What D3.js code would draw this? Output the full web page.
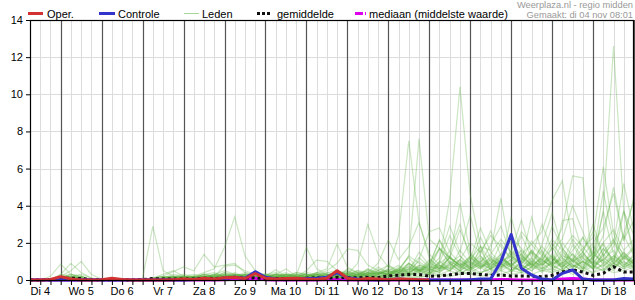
<!DOCTYPE html>
<html lang="nl">
<head>
  <meta charset="UTF-8">
  <title>Neerslag pluim</title>
  <script src="https://cdn.jsdelivr.net/npm/d3@7"></script>
  <style>
    body { margin: 0; background: #fff; }
    text { font-family: "Liberation Sans", Arial, sans-serif; }
  </style>
</head>
<body>

<script>
  // 6-uurs stappen, van di 4 nov 06:00 t/m wo 19 nov 00:00
  var dagLabels = ['Di 4','Wo 5','Do 6','Vr 7','Za 8','Zo 9','Ma 10','Di 11','Wo 12','Do 13','Vr 14','Za 15','Zo 16','Ma 17','Di 18'];
  var yTicks = [0,2,4,6,8,10,12,14];

  var oper = [0,0,0.03,0.18,0.05,0,0,0.02,0.1,0.03,
    0,0,0,0,0.02,0.05,0.03,0.1,0.05,0.12,
    0.15,0.08,0.35,0.1,0.05,0.08,0.1,0.05,0.03,0.1,
    0.5,0.1,0.02,0.08,0.05,0.02,0.06,0.04,0.02,0];

  var controle = [0,0,0,0.02,0,0,0,0,0,0,
    0,0,0,0,0,0,0.03,0.05,0.02,0.1,
    0.15,0.1,0.45,0.15,0.05,0.02,0.05,0.08,0.1,0.15,
    0.4,0.12,0.05,0.02,0,0.02,0.05,0.02,0,0,
    0,0,0,0.02,0.05,0.05,1.0,2.45,0.63,0.27,
    0.05,0,0.36,0.54,0.05,0,0,0,0.08,0.05];

  var gemiddelde = [0,0,0.02,0.1,0.1,0.08,0.02,0.01,0.02,0.01,
    0,0.02,0.08,0.05,0.05,0.06,0.06,0.1,0.08,0.1,
    0.15,0.1,0.12,0.08,0.08,0.08,0.06,0.1,0.12,0.1,
    0.15,0.12,0.12,0.15,0.12,0.22,0.25,0.3,0.3,0.2,
    0.22,0.28,0.35,0.35,0.3,0.25,0.27,0.22,0.22,0.2,
    0.18,0.25,0.43,0.54,0.43,0.25,0.36,0.72,0.43,0.43];

  var mediaan = [0,0,0,0,0,0,0,0,0,0,
    0,0,0,0,0,0,0,0,0,0.02,
    0.04,0.05,0.1,0.02,0,0,0,0,0,0.02,
    0.03,0,0,0,0,0,0,0,0,0,
    0,0,0,0,0,0.02,0.03,0.02,0,0,
    0,0.02,0.06,0.08,0.06,0,0,0,0,0];

  var leden = [
    [0,0,0.2,0.86,0.3,0.1,0,0,0,0, 0,0,0.1,0.2,0.1,0,0.1,0.2,0.1,0.3, 0.2,0.4,0.2,0.1,0.3,0.1,0.2,0.1,0.3,0.2, 0.1,0.4,0.3,0.2,0.5,0.3,0.6,1.2,0.5,0.3, 0.8,0.5,1.1,0.6,0.3,0.9,1.4,0.7,0.5,1.0, 0.6,1.8,0.9,0.4,1.2,0.6,1.5,2.2,1.0,0.7],
    [0,0,0,0.3,0.9,0.4,0.1,0,0,0, 0,0.1,2.9,0.5,0.2,0.1,0,0.2,0.1,0.2, 0.1,0.3,0.1,0.2,0.1,0.2,0.4,0.3,0.1,0.2, 0.3,0.5,0.2,0.4,0.3,0.8,0.5,1.3,0.9,0.5, 1.7,1.2,0.6,1.25,0.8,0.4,0.7,1.1,1.6,0.9, 0.4,1.0,1.6,0.8,0.5,1.3,2.0,0.9,1.4,0.6],
    [0,0,0,0.2,0.5,1.0,0.3,0.05,0,0, 0,0,0.1,0.3,0.5,0.2,0.1,0.3,0.2,0.4, 0.3,0.2,0.4,0.2,0.3,0.6,0.2,0.1,0.4,0.3, 0.2,0.6,0.4,0.3,0.7,0.4,0.3,0.9,0.6,0.4, 0.5,1.2,0.8,0.5,1.8,1.0,0.6,1.4,0.8,0.5, 1.1,0.7,3.2,3.3,1.5,0.8,1.7,0.9,3.7,1.2],
    [0,0,0,0.1,0.2,0.1,0,0,0,0, 0,0,0,0.1,0.2,0.3,0.2,0.4,0.6,1.76, 3.4,1.3,0.5,0.2,0.1,0.3,0.2,0.1,0.2,0.4, 0.3,0.2,0.5,0.3,0.4,0.2,0.5,0.3,0.8,0.6, 0.4,0.9,0.5,1.2,0.7,0.3,0.6,0.9,0.4,0.7, 1.3,0.8,0.5,1.1,0.6,1.6,0.8,0.5,1.2,0.9],
    [0,0,0,0.2,0.3,0.2,0,0,0,0, 0,0,0.1,0.2,0.45,0.7,0.5,1.38,0.7,0.8, 0.9,0.4,0.3,0.2,0.55,0.2,0.1,0.2,0.3,0.2, 0.5,0.3,0.2,0.6,0.3,0.5,0.8,0.4,1.1,2.6, 2.8,1.5,0.9,0.6,1.1,0.7,1.3,0.5,0.9,1.5, 0.8,1.2,0.6,1.9,1.0,0.7,1.1,1.6,0.8,1.3],
    [0,0,0,0.1,0.1,0.2,0,0,0,0, 0,0,0,0.1,0.1,0.2,0.1,0.3,0.2,0.75, 0.8,0.5,0.3,0.2,0.3,0.2,0.25,1.76,0.6,0.3, 0.2,0.4,0.3,0.5,0.4,0.3,0.5,0.9,0.5,0.8, 2.15,1.0,0.7,0.5,0.9,0.6,1.2,0.8,0.5,1.1, 0.7,0.4,1.0,0.6,1.3,0.9,3.7,1.4,0.8,1.1],
    [0,0,0,0.3,0.2,0.1,0,0,0,0, 0,0,0.1,0.2,0.1,0.1,0.2,0.1,0.3,0.2, 0.4,0.2,0.3,0.1,0.2,0.4,0.2,0.5,1.07,1.0, 0.5,0.3,0.2,0.4,0.3,0.6,2.4,7.5,3.1,1.2, 0.6,1.2,0.8,0.4,0.7,1.0,0.5,0.8,1.2,0.6, 0.9,0.5,1.4,0.8,0.6,1.0,0.7,1.3,0.9,0.5],
    [0,0,0,0.1,0.3,0.2,0,0,0,0, 0,0,0,0.1,0.2,0.1,0.1,0.2,0.3,0.5, 0.3,0.2,0.1,0.3,0.2,0.1,0.3,0.2,0.4,0.6, 1.94,0.7,0.4,0.3,0.6,0.4,0.5,1.3,7.6,2.2, 1.7,0.9,0.5,0.8,1.3,0.6,0.9,0.4,1.0,0.7, 1.2,0.6,0.9,1.4,0.7,1.1,0.6,0.9,1.5,0.8],
    [0,0,0,0.2,0.2,0.3,0.1,0,0,0, 0,0,0,0.2,0.1,0.2,0.3,0.2,0.1,0.3, 0.2,0.3,0.2,0.1,0.3,0.2,0.1,0.4,0.3,0.5, 0.9,1.67,1.6,0.8,0.5,0.3,0.6,0.4,0.7,0.5, 1.0,4.4,10.4,4.6,1.8,0.5,0.8,1.1,0.6,0.9, 0.5,1.0,0.7,1.2,0.6,0.8,1.3,0.7,1.0,0.6],
    [0,0,0,0.1,0.1,0.1,0,0,0,0, 0,0,0,0.1,0.3,0.2,0.1,0.3,0.4,0.2, 0.3,0.2,0.4,0.3,0.2,0.3,0.2,0.3,0.2,0.4, 0.5,0.3,0.9,3.0,1.4,0.7,0.4,0.8,0.5,1.1, 0.7,1.2,4.16,1.5,0.8,0.6,1.0,0.7,1.3,0.8, 0.6,1.1,0.8,0.5,1.0,1.4,0.9,0.6,1.2,0.8],
    [0,0,0,0.2,0.1,0.1,0,0,0,0, 0,0,0.1,0.1,0.2,0.1,0.2,0.3,0.2,0.4, 0.2,0.3,0.2,0.3,0.4,0.2,0.3,0.2,0.3,0.2, 0.4,0.3,0.5,0.4,0.9,2.15,1.1,1.8,3.1,1.4, 0.8,0.5,1.1,0.7,1.4,2.65,1.3,0.7,0.5,0.9, 1.6,0.8,0.5,1.0,0.7,0.4,0.9,1.3,0.7,1.0],
    [0,0,0,0.1,0.2,0.1,0,0,0,0, 0,0,0,0.1,0.1,0.2,0.1,0.2,0.3,0.2, 0.3,0.2,0.1,0.2,0.3,0.2,0.4,0.3,0.2,0.3, 0.2,0.5,0.3,0.6,0.4,0.3,0.7,0.5,1.0,0.6, 0.9,1.3,0.7,1.1,1.8,1.6,4.4,1.2,0.8,0.5, 0.9,1.4,0.7,1.1,0.6,1.9,1.0,0.7,1.3,0.9],
    [0,0,0,0.1,0.1,0.2,0,0,0,0, 0,0,0,0,0.1,0.2,0.1,0.2,0.2,0.3, 0.2,0.1,0.3,0.2,0.1,0.3,0.2,0.2,0.3,0.2, 0.3,0.2,0.4,0.3,0.5,0.8,0.4,0.6,1.2,0.7, 1.7,0.9,1.3,0.6,1.0,1.4,2.2,1.5,3.23,1.4, 0.8,1.3,0.6,0.9,1.5,0.8,0.5,1.1,0.7,1.4],
    [0,0,0,0,0.1,0.1,0,0,0,0, 0,0,0,0.1,0.2,0.1,0.2,0.1,0.3,0.2, 0.2,0.3,0.2,0.1,0.2,0.3,0.2,0.3,0.2,0.3, 0.4,0.2,0.3,0.5,0.3,0.6,0.4,0.9,0.5,1.0, 0.6,1.25,0.8,1.25,0.7,1.1,0.8,1.6,1.0,3.4, 1.5,0.8,1.2,0.7,1.0,0.6,1.4,0.9,0.6,1.1],
    [0,0,0,0.1,0.1,0,0,0,0,0, 0,0,0,0.1,0.1,0.2,0.1,0.2,0.1,0.2, 0.3,0.2,0.2,0.1,0.2,0.2,0.3,0.2,0.3,0.2, 0.3,0.2,0.3,0.2,0.4,0.5,0.3,0.6,0.4,0.8, 0.5,0.9,0.6,1.0,0.7,0.9,1.2,0.8,1.4,1.9, 2.6,4.3,5.35,2.0,1.2,0.8,1.1,0.6,1.3,0.9],
    [0,0,0,0.1,0.2,0.1,0,0,0,0, 0,0,0,0,0.1,0.1,0.2,0.1,0.2,0.3, 0.2,0.2,0.3,0.2,0.2,0.1,0.2,0.3,0.2,0.3, 0.2,0.3,0.4,0.2,0.3,0.4,0.6,0.4,0.7,0.5, 0.8,0.6,1.0,0.7,1.2,0.8,1.0,1.3,0.9,1.5, 1.1,1.7,2.8,5.6,5.5,0.6,1.2,0.8,1.5,1.0],
    [0,0,0,0.1,0.1,0.1,0,0,0,0, 0,0,0,0.1,0.1,0.1,0.2,0.1,0.2,0.1, 0.2,0.3,0.2,0.3,0.2,0.2,0.1,0.2,0.3,0.2, 0.3,0.4,0.2,0.3,0.4,0.3,0.5,0.7,0.5,0.9, 0.6,1.0,0.7,1.3,0.9,0.6,1.1,0.8,1.2,0.7, 1.0,0.8,1.3,1.1,1.7,2.3,6.1,2.5,1.2,1.8],
    [0,0,0,0.1,0,0.1,0,0,0,0, 0,0,0,0.1,0.1,0.2,0.1,0.1,0.2,0.2, 0.1,0.2,0.3,0.2,0.1,0.2,0.2,0.3,0.2,0.1, 0.2,0.3,0.2,0.4,0.2,0.3,0.4,0.3,0.5,0.4, 0.6,0.8,0.5,0.9,0.6,1.1,0.7,0.9,0.6,1.0, 0.8,1.2,0.7,1.4,0.9,1.2,3.7,12.6,3.7,1.5],
    [0,0,0,0,0.1,0.1,0,0,0,0, 0,0,0,0,0.1,0.2,0.1,0.2,0.1,0.2, 0.2,0.1,0.2,0.1,0.2,0.3,0.2,0.2,0.1,0.2, 0.3,0.2,0.3,0.2,0.3,0.5,0.3,0.4,0.6,0.5, 0.7,0.5,0.9,0.6,0.8,1.2,0.7,1.0,1.4,0.8, 1.1,0.7,1.5,1.0,1.3,2.0,2.8,4.67,2.1,4.5],
    [0,0,0,0.1,0.1,0.1,0,0,0,0, 0,0,0,0.1,0.2,0.1,0.1,0.2,0.2,0.1, 0.3,0.2,0.1,0.2,0.3,0.2,0.1,0.2,0.4,0.3, 0.2,0.3,0.2,0.4,0.3,0.5,0.4,0.7,0.4,0.9, 1.7,1.2,0.8,1.0,0.6,1.3,0.9,0.5,1.0,1.6, 0.9,1.3,0.8,1.6,2.3,1.4,1.0,1.8,3.7,2.4],
    [0,0,0,0,0.1,0,0,0,0,0, 0,0,0,0,0.1,0.1,0.2,0.1,0.1,0.2, 0.1,0.2,0.1,0.2,0.1,0.1,0.2,0.1,0.2,0.1, 0.2,0.1,0.3,0.2,0.2,0.3,0.2,0.4,0.3,0.6, 0.4,0.8,1.1,2.0,1.5,2.4,1.8,1.2,2.6,1.9, 1.3,2.2,1.6,2.4,1.8,1.1,2.0,2.7,1.6,2.2],
    [0,0,0,0.1,0,0,0,0,0,0, 0,0,0,0,0,0.1,0.1,0.1,0.2,0.1, 0.2,0.1,0.2,0.1,0.1,0.2,0.1,0.2,0.1,0.2, 0.1,0.2,0.1,0.2,0.2,0.3,0.2,0.3,0.4,0.3, 0.5,0.7,0.4,0.6,1.0,0.7,1.4,2.1,1.3,0.8, 1.2,2.9,1.7,1.0,1.5,2.6,1.3,2.0,1.1,1.7],
    [0,0,0,0,0,0.1,0,0,0,0, 0,0,0,0,0.1,0,0.1,0.2,0.1,0.1, 0.1,0.2,0.1,0.1,0.2,0.1,0.1,0.2,0.1,0.1, 0.2,0.1,0.2,0.1,0.3,0.2,0.3,0.2,0.5,0.3, 1.0,0.6,1.6,0.9,2.3,1.2,0.8,1.5,1.0,2.1, 1.4,0.9,2.0,1.3,0.8,1.2,1.9,1.0,2.4,1.3],
    [0,0,0,0,0,0,0,0,0,0, 0,0,0,0,0,0.1,0,0.1,0.1,0.2, 0.1,0.1,0.1,0.2,0.1,0.1,0.1,0.1,0.2,0.1, 0.1,0.2,0.1,0.1,0.2,0.1,0.2,0.3,0.2,0.4, 0.3,0.5,0.3,0.7,0.4,0.6,0.9,0.5,0.7,1.2, 0.6,0.9,1.1,0.7,1.0,0.6,0.8,1.2,0.7,0.9],
    [0,0,0,0,0,0,0,0,0,0, 0,0,0,0,0,0,0.1,0,0.1,0.1, 0.1,0.1,0.2,0.1,0.1,0.1,0.1,0.1,0.1,0.2, 0.1,0.1,0.2,0.1,0.1,0.2,0.1,0.2,0.1,0.3, 0.2,0.3,0.5,0.3,0.4,0.6,0.3,0.5,0.4,0.7, 0.5,0.6,0.4,0.8,0.5,0.7,0.5,0.9,0.6,0.8],
    [0,0,0,0,0,0,0,0,0,0, 0,0,0,0,0,0,0,0.1,0,0.1, 0.1,0,0.1,0.1,0,0.1,0.1,0.1,0.1,0.1, 0.1,0.2,0.1,0.1,0.1,0.2,0.1,0.1,0.2,0.2, 0.3,0.2,0.3,0.4,0.2,0.3,0.5,0.3,0.4,0.3, 0.5,0.4,0.6,0.3,0.5,0.4,0.6,0.4,0.5,0.7],
    [0,0,0,0,0,0,0,0,0,0, 0,0,0,0,0,0,0.1,0.1,0,0.1, 0.1,0.1,0.1,0,0.1,0.1,0.1,0.2,0.1,0.1, 0.2,0.1,0.1,0.2,0.1,0.3,0.2,0.5,1.5,0.8, 2.15,1.2,2.7,1.4,0.9,1.9,2.9,1.3,0.8,1.6, 1.0,2.0,1.2,0.7,1.4,0.9,1.7,1.1,2.5,4.3],
    [0,0,0,0,0,0,0,0,0,0, 0,0,0,0,0,0,0,0.1,0.1,0.1, 0,0.1,0.1,0.1,0.1,0,0.1,0.1,0.1,0.2, 0.1,0.2,0.1,0.3,0.2,0.1,0.4,0.2,0.6,0.4, 0.9,2.4,1.3,0.8,1.6,0.7,1.1,2.3,1.7,1.0, 1.8,1.2,0.9,2.2,1.5,3.0,1.3,2.1,1.4,1.0],
    [0,0,0,0.1,0,0,0,0,0,0, 0,0,0,0,0.1,0,0.1,0.1,0.2,0.1, 0.1,0.2,0.1,0.1,0.2,0.1,0.2,0.1,0.1,0.2, 0.2,0.1,0.3,0.2,0.4,0.3,0.5,0.4,0.8,0.6, 1.2,2.9,1.5,3.5,1.3,0.8,2.0,1.0,2.4,1.2, 3.0,1.6,2.2,4.0,2.6,1.3,2.4,5.0,2.2,3.2],
    [0,0,0,0,0.1,0,0,0,0,0, 0,0,0,0,0,0.1,0,0.1,0.1,0.2, 0.1,0.1,0.2,0.1,0.1,0.2,0.1,0.1,0.2,0.1, 0.1,0.2,0.2,0.3,0.2,0.4,0.3,0.6,0.5,0.7, 0.6,1.6,3.0,1.1,2.8,1.5,0.9,3.4,1.4,0.8, 1.9,3.6,1.7,1.0,2.3,1.2,4.8,2.0,5.2,2.6]
  ];

  var start = new Date(2025, 10, 4, 6);
  var end = new Date(2025, 10, 19, 0);
  var stap = 6 * 3600 * 1000;
  function tijd(i){ return new Date(start.getTime() + i * stap); }

  var W = 635, H = 300;
  var pl = 30, pr = 634, pt = 20, pb = 280;

  var x = d3.scaleTime().domain([start, end]).range([pl, pr]);
  var y = d3.scaleLinear().domain([0, 14]).range([pb, pt]);

  var svg = d3.select('body').append('svg').attr('width', W).attr('height', H);
  svg.append('rect').attr('width', W).attr('height', H).attr('fill', '#fff');

  // rasterlijnen
  var zesUur = d3.timeHour.every(6).range(start, d3.timeMinute.offset(end, 1));
  var middernacht = d3.timeDay.range(d3.timeDay.ceil(start), d3.timeMinute.offset(end, 1));

  svg.append('g').selectAll('line').data(zesUur).enter().append('line')
    .attr('x1', function(d){ return Math.round(x(d)) + 0.5; })
    .attr('x2', function(d){ return Math.round(x(d)) + 0.5; })
    .attr('y1', pt).attr('y2', pb)
    .attr('stroke', '#dcdcdc').attr('stroke-width', 1);

  svg.append('g').selectAll('line').data(yTicks).enter().append('line')
    .attr('x1', pl).attr('x2', pr)
    .attr('y1', function(d){ return Math.round(y(d)) + 0.5; })
    .attr('y2', function(d){ return Math.round(y(d)) + 0.5; })
    .attr('stroke', '#dcdcdc').attr('stroke-width', 1);

  svg.append('g').selectAll('line').data(middernacht).enter().append('line')
    .attr('x1', function(d){ return Math.round(x(d)) + 0.5; })
    .attr('x2', function(d){ return Math.round(x(d)) + 0.5; })
    .attr('y1', pt).attr('y2', pb)
    .attr('stroke', '#555').attr('stroke-width', 1.2);

  // lijnen
  function lijn(){
    return d3.line()
      .defined(function(d){ return d != null; })
      .x(function(d, i){ return x(tijd(i)); })
      .y(function(d){ return y(d); });
  }

  svg.append('g').selectAll('path').data(leden).enter().append('path')
    .attr('d', lijn())
    .attr('fill', 'none')
    .attr('stroke', '#5cb040')
    .attr('stroke-opacity', 0.32)
    .attr('stroke-width', 1.2);

  svg.append('path').datum(mediaan).attr('d', lijn())
    .attr('fill', 'none').attr('stroke', '#dd00ee').attr('stroke-width', 3);

  svg.append('path').datum(gemiddelde).attr('d', lijn())
    .attr('fill', 'none').attr('stroke', '#111').attr('stroke-width', 3)
    .attr('stroke-dasharray', '3,3');

  svg.append('path').datum(controle).attr('d', lijn())
    .attr('fill', 'none').attr('stroke', '#3434cc').attr('stroke-width', 3)
    .attr('stroke-linejoin', 'round');

  svg.append('path').datum(oper).attr('d', lijn())
    .attr('fill', 'none').attr('stroke', '#d43232').attr('stroke-width', 3)
    .attr('stroke-linejoin', 'round');

  // kader
  svg.append('rect')
    .attr('x', pl + 0.5).attr('y', pt + 0.5)
    .attr('width', pr - pl - 1).attr('height', pb - pt)
    .attr('fill', 'none').attr('stroke', '#000').attr('stroke-width', 1.2);

  // assen
  var xAs = d3.axisBottom(x).tickValues(zesUur).tickSize(5).tickFormat('');
  svg.append('g').attr('transform', 'translate(0,' + pb + ')').call(xAs)
    .call(function(g){ g.select('.domain').attr('stroke-width', 1.2); });

  svg.append('g').selectAll('text').data(dagLabels).enter().append('text')
    .attr('x', function(d, i){ return x(d3.timeHour.offset(d3.timeDay.floor(start), 12 + 24 * i)); })
    .attr('y', 295)
    .attr('text-anchor', 'middle')
    .attr('font-size', '11px')
    .attr('fill', '#000')
    .text(function(d){ return d; });

  var yAs = d3.axisLeft(y).tickValues(yTicks).tickSize(4).tickPadding(3);
  svg.append('g').attr('transform', 'translate(' + pl + ',0)').call(yAs)
    .call(function(g){
      g.select('.domain').remove();
      g.selectAll('text').attr('font-size', '11px').attr('font-family', '"Liberation Sans", Arial, sans-serif').attr('fill', '#000');
    });

  // legenda
  var legenda = [
    {naam: 'Oper.', kleur: '#d43232', x1: 28, x2: 43, tx: 47, dash: null},
    {naam: 'Controle', kleur: '#3434cc', x1: 99, x2: 115, tx: 118, dash: null},
    {naam: 'Leden', kleur: '#a9d898', x1: 184, x2: 199, tx: 202, dash: null, dun: true},
    {naam: 'gemiddelde', kleur: '#111', x1: 257, x2: 271, tx: 277, dash: '3,2'},
    {naam: 'mediaan (middelste waarde)', kleur: '#dd00ee', x1: 355, x2: 366, tx: 369, dash: '8,2,1,2'}
  ];
  var lg = svg.append('g').selectAll('g').data(legenda).enter().append('g');
  lg.append('line')
    .attr('x1', function(d){ return d.x1; }).attr('x2', function(d){ return d.x2; })
    .attr('y1', 13.5).attr('y2', 13.5)
    .attr('stroke', function(d){ return d.kleur; })
    .attr('stroke-width', function(d){ return d.dun ? 1 : 3; })
    .attr('stroke-dasharray', function(d){ return d.dash; });
  lg.append('text')
    .attr('x', function(d){ return d.tx; }).attr('y', 17.5)
    .attr('font-size', '11px').attr('fill', '#000')
    .text(function(d){ return d.naam; });

  svg.append('text').attr('x', 633).attr('y', 8).attr('text-anchor', 'end')
    .attr('font-size', '9.3px').attr('fill', '#999')
    .text('Weerplaza.nl - regio midden');
  svg.append('text').attr('x', 633).attr('y', 18).attr('text-anchor', 'end')
    .attr('font-size', '9.3px').attr('fill', '#999')
    .text('Gemaakt: di 04 nov 08:01');
</script>

</body>
</html>
